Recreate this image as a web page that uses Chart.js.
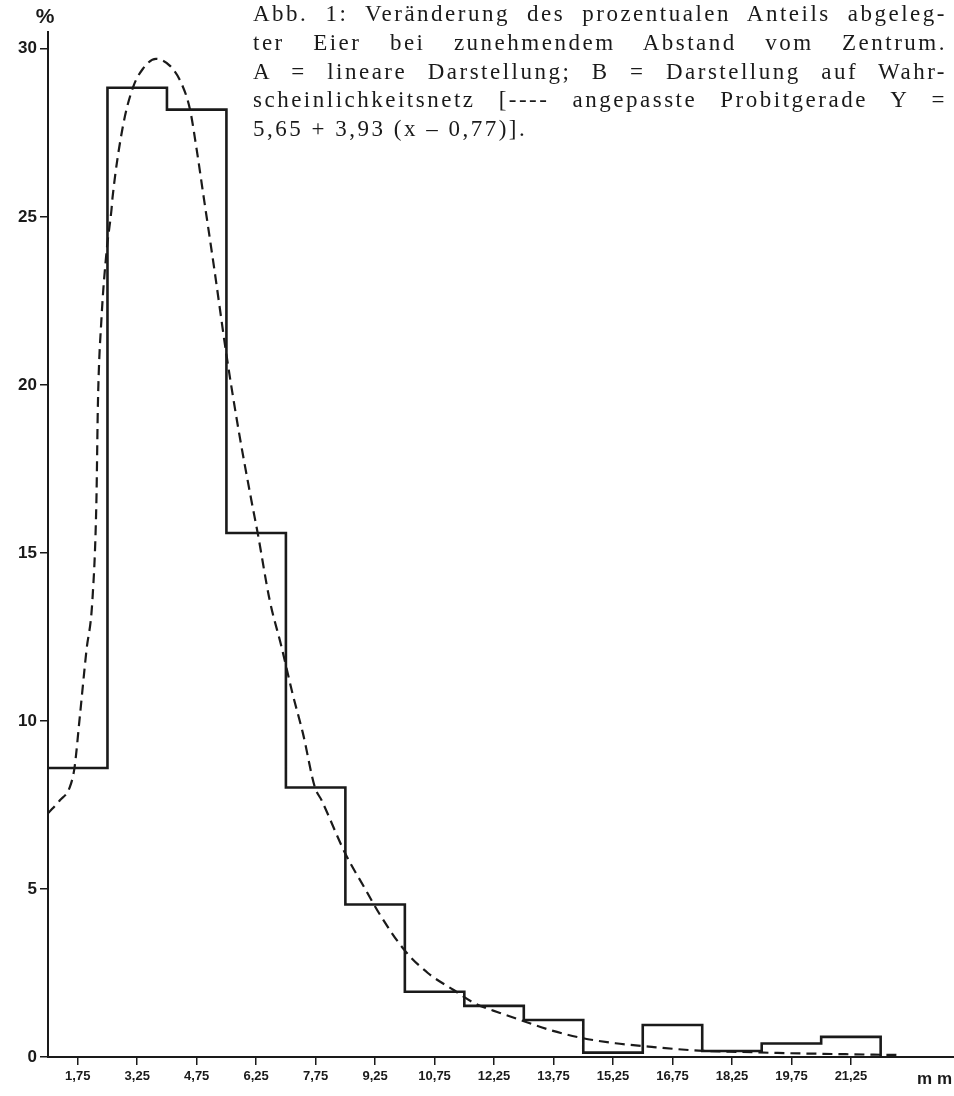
<!DOCTYPE html>
<html>
<head>
<meta charset="utf-8">
<script src="https://cdn.jsdelivr.net/npm/chart.js@4.4.1/dist/chart.umd.min.js"></script>
<style>
  html, body { margin: 0; padding: 0; background: #fff; }
  #wrap { position: relative; width: 954px; height: 1096px; }
  #caption {
    position: absolute; left: 253px; top: 0px; width: 694px;
    font-family: "Liberation Serif", "Times New Roman", serif;
    font-size: 23px; line-height: 28.8px; color: #1a1a1a; letter-spacing: 2.5px;
  }
  #caption div { text-align: justify; text-align-last: justify; white-space: nowrap; }
  #caption div.last { text-align-last: left; }
</style>
</head>
<body>
<div id="wrap">
  <canvas id="chart"></canvas>
  <div id="caption">
    <div>Abb. 1: Veränderung des prozentualen Anteils abgeleg-</div>
    <div>ter Eier bei zunehmendem Abstand vom Zentrum.</div>
    <div>A = lineare Darstellung; B = Darstellung auf Wahr-</div>
    <div>scheinlichkeitsnetz [---- angepasste Probitgerade Y =</div>
    <div class="last">5,65 + 3,93 (x – 0,77)].</div>
  </div>
</div>
<script>
// histogram: left edges of the 1.5 mm classes and their percentages
const binEdges = [1, 2.5, 4, 5.5, 7, 8.5, 10, 11.5, 13, 14.5, 16, 17.5, 19, 20.5, 22];
const binPercent = [8.6, 28.84, 28.19, 15.59, 8.02, 4.54, 1.94, 1.52, 1.1, 0.13, 0.95, 0.18, 0.4, 0.6];

// fitted curve (dashed)
const curveX = [1.0, 1.3, 1.55, 1.67, 1.8, 1.97, 2.12, 2.22, 2.26, 2.35, 2.48, 2.6, 2.63, 2.89, 3.14, 3.39, 3.72,
  4.07, 4.37, 4.58, 4.75, 4.9, 5.2, 5.5, 5.8, 6.13, 6.29, 6.59, 6.89, 7.17, 7.43, 7.73, 7.9, 8.5, 9.0, 9.38,
  9.99, 10.58, 11.22, 11.76, 12.4, 13.04, 13.67, 14.49, 15.31, 16.23, 17.41, 18.5, 19.4, 20.78, 22.42];
const curveY = [7.25, 7.64, 8.03, 8.62, 10.1, 12.1, 13.6, 16.5, 19.5, 22.0, 24.0, 25.2, 25.6, 27.7, 28.84, 29.4, 29.7,
  29.5, 28.96, 28.2, 27.0, 25.8, 23.4, 20.9, 18.7, 16.56, 15.58, 13.6, 12.2, 10.8, 9.63, 8.03, 7.64, 6.05, 5.0, 4.22,
  3.18, 2.5, 2.0, 1.6, 1.31, 1.05, 0.8, 0.56, 0.41, 0.3, 0.19, 0.15, 0.12, 0.09, 0.06];

const xTicks = [1.75, 3.25, 4.75, 6.25, 7.75, 9.25, 10.75, 12.25, 13.75, 15.25, 16.75, 18.25, 19.75, 21.25];
const yTicks = [0, 5, 10, 15, 20, 25, 30];

const ink = '#1a1a1a';

const histPoints = binEdges.map((x, i) => ({ x: x, y: i < binPercent.length ? binPercent[i] : 0 }));
const curvePoints = curveX.map((x, i) => ({ x: x, y: curveY[i] }));

const unitLabels = {
  id: 'unitLabels',
  afterDraw(chart) {
    const ctx = chart.ctx;
    ctx.save();
    ctx.fillStyle = ink;
    ctx.textAlign = 'center';
    ctx.textBaseline = 'middle';
    ctx.font = 'bold 21px "Liberation Sans", Arial, sans-serif';
    ctx.fillText('%', chart.chartArea.left - 3, 17);
    ctx.font = 'bold 17px "Liberation Sans", Arial, sans-serif';
    ctx.textAlign = 'right';
    ctx.fillText('m m', 952, 1079);
    ctx.restore();
  }
};

const gridOpts = { display: true, drawOnChartArea: false, drawTicks: true, tickLength: 8, color: ink, lineWidth: 1.5 };

new Chart(document.getElementById('chart'), {
  type: 'line',
  data: {
    datasets: [
      {
        label: 'Anteil abgelegter Eier',
        data: histPoints,
        stepped: 'before',
        borderColor: ink,
        borderWidth: 2.6,
        pointRadius: 0,
        fill: false
      },
      {
        label: 'angepasste Kurve',
        data: curvePoints,
        borderColor: ink,
        borderWidth: 2.2,
        borderDash: [10, 6],
        pointRadius: 0,
        cubicInterpolationMode: 'monotone',
        fill: false
      }
    ]
  },
  options: {
    responsive: true,
    maintainAspectRatio: false,
    devicePixelRatio: 1,
    animation: false,
    layout: { padding: { top: 32, right: 0, left: 0, bottom: 0 } },
    plugins: { legend: { display: false }, tooltip: { enabled: false }, title: { display: false } },
    scales: {
      x: {
        type: 'linear',
        min: 1,
        max: 23.85,
        afterBuildTicks: scale => { scale.ticks = xTicks.map(v => ({ value: v })); },
        afterFit: scale => { scale.height = 39; },
        ticks: {
          autoSkip: false, maxRotation: 0, padding: 4, color: ink,
          font: { family: '"Liberation Sans", Arial, sans-serif', size: 13, weight: 'bold' },
          callback: v => v.toFixed(2).replace('.', ',')
        },
        grid: gridOpts,
        border: { display: true, color: ink, width: 2 }
      },
      y: {
        min: 0,
        max: 30.5,
        afterBuildTicks: scale => { scale.ticks = yTicks.map(v => ({ value: v })); },
        afterFit: scale => { scale.width = 48; },
        ticks: {
          padding: 3, color: ink,
          font: { family: '"Liberation Sans", Arial, sans-serif', size: 17, weight: 'bold' }
        },
        grid: gridOpts,
        border: { display: true, color: ink, width: 2 }
      }
    }
  },
  plugins: [unitLabels]
});
</script>
</body>
</html>
